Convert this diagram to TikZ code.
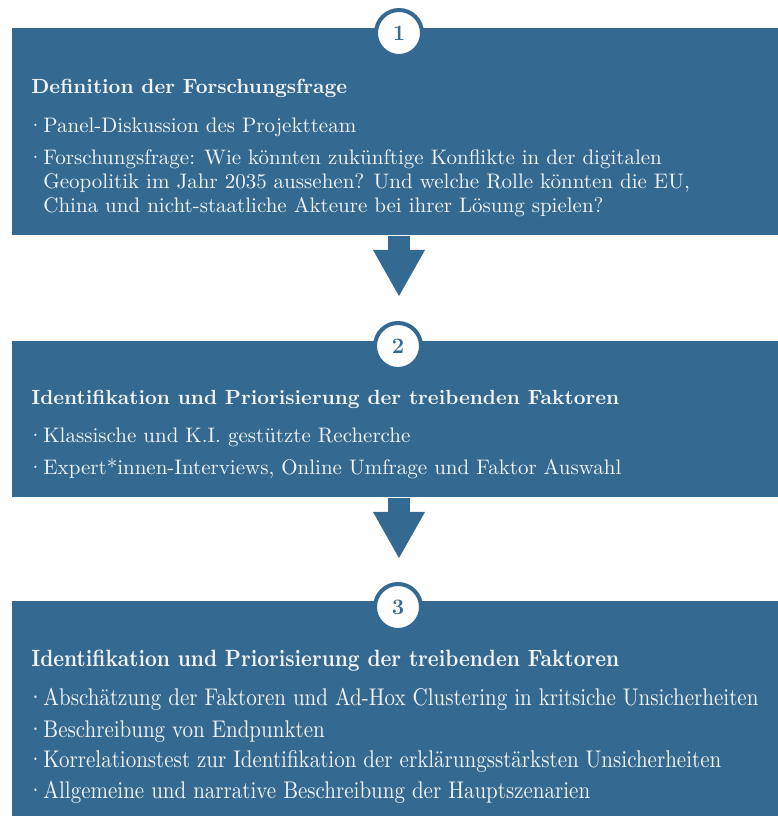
\documentclass[tikz,border=0pt]{standalone}
\usepackage{xcolor}
\usepackage{tikz}
\usetikzlibrary{arrows.meta}

\definecolor{stepblue}{RGB}{52,106,145}
\definecolor{steptext}{RGB}{244,244,244}
\newcommand{\stepdot}{\makebox[6pt][l]{\kern-2pt·}}

\begin{document}
\begin{tikzpicture}[x=0.5pt,y=0.5pt,
    stepbox/.style={fill=stepblue, inner sep=0pt, minimum width=383pt, anchor=north west},
    stepnum/.style={circle, draw=stepblue, fill=white, line width=2pt, minimum size=23pt,
        inner sep=0pt, text=stepblue, font=\bfseries\fontsize{11}{13}\selectfont},
    steptitle/.style={anchor=base west, inner sep=0pt, text=steptext,
        font=\bfseries\fontsize{10.25}{12}\selectfont},
    stepitem/.style={anchor=base west, inner sep=0pt, text=steptext,
        font=\fontsize{10.5}{12}\selectfont},
    bigarrow/.style={draw=stepblue, line width=11pt,
        -{Triangle[width=26pt,length=23pt,line width=0pt]}}]
    \useasboundingbox (0,0) rectangle (778,816);

    % the three blocks
    \node[stepbox, minimum height=103.5pt] (box1) at (12,788) {};
    \node[stepbox, minimum height=78pt] (box2) at (12,475) {};
    \node[stepbox, minimum height=107.5pt] (box3) at (12,215) {};

    % arrows between the blocks
    \coordinate (tip1) at (399,520);
    \coordinate (tip2) at (399,258);
    \draw[bigarrow] (tip1 |- box1.south) -- (tip1);
    \draw[bigarrow] (tip2 |- box2.south) -- (tip2);

    % step numbers
    \node[stepnum] (num1) at (399,783) {1};
    \node[stepnum] (num2) at (398,470) {2};
    \node[stepnum] (num3) at (398,209) {3};

    % block 1
    \node[steptitle] (title1) at (31,722) {Definition der Forschungsfrage};
    \node[stepitem] (item1a) at (31,683) {\stepdot Panel-Diskussion des Projektteam};
    \node[stepitem] (item1b) at (31,651) {\stepdot Forschungsfrage: Wie könnten zukünftige Konflikte in der digitalen};
    \node[stepitem] (item1c) at (43,627) {Geopolitik im Jahr 2035 aussehen? Und welche Rolle könnten die EU,};
    \node[stepitem] (item1d) at (43,603) {China und nicht-staatliche Akteure bei ihrer Lösung spielen?};

    % block 2
    \node[steptitle] (title2) at (31,411) {Identifikation und Priorisierung der treibenden Faktoren};
    \node[stepitem] (item2a) at (31,373) {\stepdot Klassische und K.I. gestützte Recherche};
    \node[stepitem] (item2b) at (31,341) {\stepdot Expert*innen-Interviews, Online Umfrage und Faktor Auswahl};

    % block 3
    \node[steptitle, yscale=1.15] (title3) at (31,149) {Identifikation und Priorisierung der treibenden Faktoren};
    \node[stepitem, yscale=1.15] (item3a) at (31,110) {\stepdot Abschätzung der Faktoren und Ad-Hox Clustering in kritsiche Unsicherheiten};
    \node[stepitem, yscale=1.15] (item3b) at (31,79) {\stepdot Beschreibung von Endpunkten};
    \node[stepitem, yscale=1.15] (item3c) at (31,48) {\stepdot Korrelationstest zur Identifikation der erklärungsstärksten Unsicherheiten};
    \node[stepitem, yscale=1.15] (item3d) at (31,17) {\stepdot Allgemeine und narrative Beschreibung der Hauptszenarien};
\end{tikzpicture}
\end{document}
